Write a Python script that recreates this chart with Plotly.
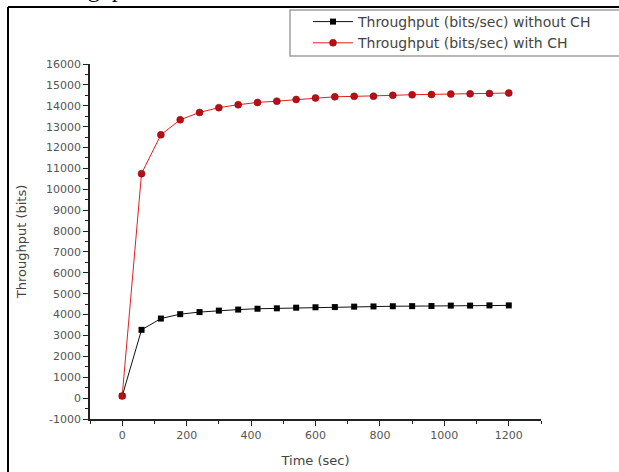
import plotly.graph_objects as go

time_sec = [0, 60, 120, 180, 240, 300, 360, 420, 480, 540, 600, 660, 720, 780, 840, 900, 960, 1020, 1080, 1140, 1200]
without_ch = [100, 3270, 3810, 4020, 4120, 4190, 4240, 4280, 4300, 4330, 4350, 4360, 4380, 4390, 4400, 4405, 4410, 4430, 4430, 4440, 4440]
with_ch = [100, 10750, 12610, 13330, 13680, 13910, 14050, 14160, 14220, 14300, 14370, 14430, 14450, 14460, 14500, 14530, 14540, 14560, 14570, 14590, 14610]
name_without = "Throughput (bits/sec) without CH"
name_with = "Throughput (bits/sec) with CH"
y_ticks = list(range(-1000, 16001, 1000))
y_tick_labels = [str(v) for v in y_ticks]
x_ticks = list(range(0, 1201, 200))
x_tick_labels = [str(v) for v in x_ticks]

W, H = 619, 472
L, R, T, B = 90, 78, 64, 53
PW, PH = W - L - R, H - T - B

def px(xp):
    return (xp - L) / PW

def py(yp):
    return (H - B - yp) / PH

FONT = "DejaVu Sans, Arial"

fig = go.Figure()
fig.add_trace(go.Scatter(
    x=time_sec, y=without_ch, name=name_without, mode="lines+markers",
    line=dict(color="#111111", width=1),
    marker=dict(symbol="square", size=6, color="#000000"),
))
fig.add_trace(go.Scatter(
    x=time_sec, y=with_ch, name=name_with, mode="lines+markers",
    line=dict(color="#e02020", width=1),
    marker=dict(symbol="circle", size=7, color="#b80e14", line=dict(color="#7a0a0a", width=0.5)),
))

axis_common = dict(
    showgrid=False, zeroline=False, showline=True, linecolor="#222222", linewidth=1.5,
    ticks="outside", ticklen=5, tickwidth=1.2, tickcolor="#222222",
    tickfont=dict(family=FONT, size=11, color="#555555"),
    mirror=False,
)

fig.update_xaxes(
    range=[-100, 1300], tickmode="array", tickvals=x_ticks, ticktext=x_tick_labels,
    minor=dict(ticks="outside", ticklen=3, tickcolor="#222222", dtick=100, tick0=0),
    title=dict(text="Time (sec)", font=dict(family=FONT, size=13, color="#444444"), standoff=15),
    **axis_common,
)
fig.update_yaxes(
    range=[-1000, 16000], tickmode="array", tickvals=y_ticks, ticktext=y_tick_labels,
    minor=dict(ticks="outside", ticklen=3, tickcolor="#222222", dtick=500, tick0=0),
    title=dict(text="Throughput (bits)", font=dict(family=FONT, size=13, color="#444444"), standoff=16),
    **axis_common,
)

shapes = [
    # legend box
    dict(type="rect", xref="paper", yref="paper", x0=px(290), x1=px(630), y0=py(56), y1=py(10),
         line=dict(color="#a0a0a0", width=1.5), fillcolor="rgba(255,255,255,0)", layer="below"),
    # page frame lines
    dict(type="line", xref="paper", yref="paper", x0=px(8), x1=px(8), y0=py(7), y1=py(480),
         line=dict(color="#000000", width=2)),
    dict(type="line", xref="paper", yref="paper", x0=px(8), x1=px(630), y0=py(7), y1=py(7),
         line=dict(color="#000000", width=2)),
]

annotations = [
    dict(text="throughput", xref="paper", yref="paper", x=px(145), y=py(4),
         xanchor="right", yanchor="bottom", showarrow=False,
         font=dict(family="Liberation Serif", size=24, color="#000000")),
]

fig.update_layout(
    width=W, height=H,
    margin=dict(l=L, r=R, t=T, b=B, autoexpand=False),
    paper_bgcolor="white", plot_bgcolor="white",
    shapes=shapes, annotations=annotations,
    legend=dict(x=px(308), y=py(6), xanchor="left", yanchor="top",
                bgcolor="rgba(0,0,0,0)", borderwidth=0,
                font=dict(family=FONT, size=14, color="#444444"),
                itemwidth=40, tracegroupgap=0),
    showlegend=True,
)

fig.write_html("out.html", config={"displayModeBar": False},
               post_script="document.body.style.margin='0';")
